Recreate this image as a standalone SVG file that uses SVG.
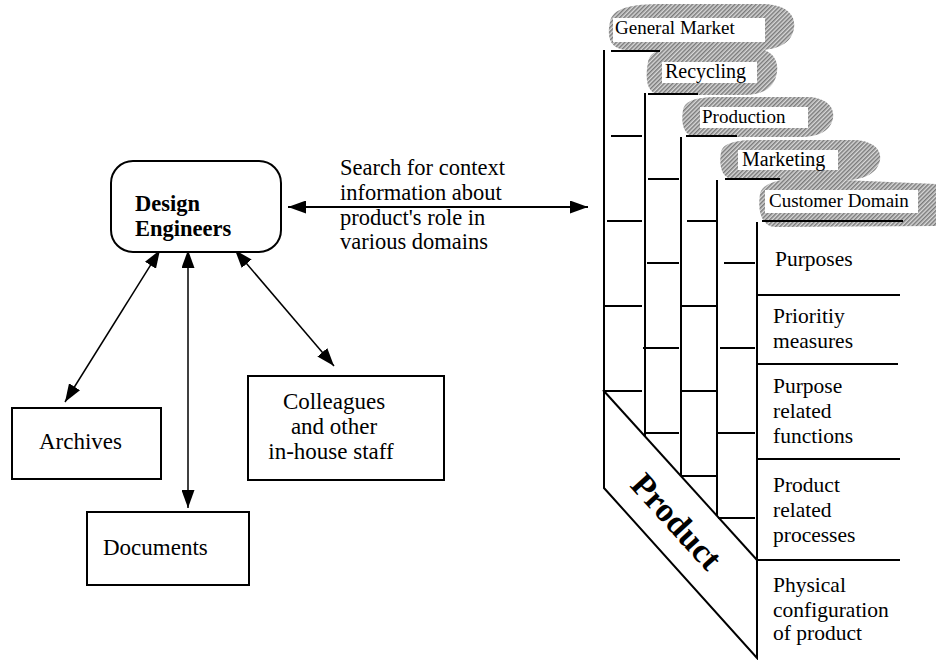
<svg xmlns="http://www.w3.org/2000/svg" width="936" height="660" viewBox="0 0 936 660">
<defs>
<style>
.tx{font-family:"Liberation Serif","Times New Roman",serif;font-size:22.5px;fill:#000}
.ta{font-family:"Liberation Serif","Times New Roman",serif;font-size:21.5px;fill:#000}
.tb{font-family:"Liberation Serif","Times New Roman",serif;font-size:23px;fill:#000}
.cl{font-family:"Liberation Serif","Times New Roman",serif;font-size:19px;fill:#000}
.cm{font-family:"Liberation Serif","Times New Roman",serif;font-size:20px;fill:#000}
.bd{font-weight:bold}
.box{fill:#fff;stroke:#000;stroke-width:2}
.ln{stroke:#000;stroke-width:2;fill:none}
.thin{stroke:#000;stroke-width:1.5;fill:none}
.cloud{fill:url(#hatch);stroke:none}
.lab{fill:#fff;stroke:none}
</style>
<pattern id="hatch" patternUnits="userSpaceOnUse" width="3" height="3" patternTransform="rotate(45)">
<rect width="3" height="3" fill="#d8d8d8"/>
<line x1="0.75" y1="0" x2="0.75" y2="3" stroke="#7a7a7a" stroke-width="1.5"/>
</pattern>
<marker id="ah" viewBox="0 0 18 13" refX="18" refY="6.5" markerWidth="18" markerHeight="13" markerUnits="userSpaceOnUse" orient="auto-start-reverse">
<path d="M0,0 L18,6.5 L0,13 z" fill="#000"/>
</marker>
</defs>
<rect width="936" height="660" fill="#fff"/>

<g id="connectors">
<line class="ln" x1="288" y1="207" x2="588" y2="207" marker-start="url(#ah)" marker-end="url(#ah)"/>
<line class="thin" x1="160" y1="250" x2="65" y2="402" marker-start="url(#ah)" marker-end="url(#ah)"/>
<line class="thin" x1="188" y1="250" x2="188" y2="508" marker-start="url(#ah)" marker-end="url(#ah)"/>
<line class="thin" x1="235" y1="250" x2="334" y2="366" marker-start="url(#ah)" marker-end="url(#ah)"/>
</g>

<g id="search-label">
<text class="tx" x="340" y="175">Search for context</text>
<text class="tx" x="340" y="200">information about</text>
<text class="tx" x="340" y="225">product's role in</text>
<text class="tx" x="340" y="249">various domains</text>
</g>

<g id="design-engineers">
<rect class="box" x="111" y="161" width="170" height="91" rx="22"/>
<text class="tx bd" x="135" y="211">Design</text>
<text class="tx bd" x="135" y="236">Engineers</text>
</g>

<g id="archives">
<rect class="box" x="12" y="408" width="149" height="71"/>
<text class="tb" x="39" y="449">Archives</text>
</g>

<g id="documents">
<rect class="box" x="87" y="512" width="162" height="73"/>
<text class="tb" x="103" y="555">Documents</text>
</g>

<g id="colleagues">
<rect class="box" x="248" y="376" width="196" height="104"/>
<text class="tb" x="334" y="409" text-anchor="middle">Colleagues</text>
<text class="tb" x="334" y="434" text-anchor="middle">and other</text>
<text class="tb" x="331" y="459" text-anchor="middle">in-house staff</text>
</g>

<g id="domain-clouds">
<path class="cloud" d="M610,22 C612,8 632,4 662,4 L762,4 C786,4 796,15 794,28 C792,42 780,50 758,50 L628,50 C612,50 606,40 610,22 Z"/>
<path class="cloud" d="M648,62 C650,51 662,47 684,47 L748,47 C770,47 779,58 777,72 C775,87 764,95 744,95 L662,95 C649,95 644,84 648,62 Z"/>
<path class="cloud" d="M683,110 C685,100 698,97 718,97 L806,97 C826,97 835,107 833,118 C831,130 820,137 800,137 L698,137 C686,137 680,128 683,110 Z"/>
<path class="cloud" d="M721,152 C723,143 736,140 756,140 L852,140 C872,140 882,149 880,160 C878,172 866,180 846,180 L736,180 C724,180 718,170 721,152 Z"/>
<path class="cloud" d="M760,194 C762,184 776,180 796,178 L936,184 L936,226 L776,227 C763,227 757,214 760,194 Z"/>
<rect class="lab" x="613" y="18" width="152" height="24"/>
<rect class="lab" x="662" y="62" width="95" height="21"/>
<rect class="lab" x="700" y="107" width="108" height="21"/>
<rect class="lab" x="738" y="150" width="100" height="20"/>
<rect class="lab" x="765" y="190" width="153" height="23"/>
<text class="cl" x="615" y="34">General Market</text>
<text class="cm" x="665" y="78">Recycling</text>
<text class="cl" x="702" y="123">Production</text>
<text class="cm" x="742" y="166">Marketing</text>
<text class="cl" x="769" y="207">Customer Domain</text>
</g>

<g id="product-structure">
<path class="ln" d="M604,50 V488 L757,658 V222"/>
<path class="ln" d="M603,390 L757,560"/>
<path class="ln" d="M645,93 V436 M681,137 V476 M717,180 V516"/>
<path class="ln" d="M611,51 H660 M611,136 H642 M607,221 H642 M605,306 H642 M604,391 H642"/>
<path class="ln" d="M648,94 H698 M648,179 H679 M647,263 H679 M643,348 H679 M645,433 H679"/>
<path class="ln" d="M686,136 H737 M687,221 H717 M682,306 H716 M682,391 H716 M682,476 H717"/>
<path class="ln" d="M725,179 H780 M724,263 H755 M720,348 H755 M718,433 H755 M718,518 H755"/>
<path class="ln" d="M762,221 H903 M757,295 H900 M757,364 H898 M757,459 H900 M757,560 H900"/>
<text class="tx bd" transform="translate(677,521) rotate(47.8)" x="0" y="12" text-anchor="middle" style="font-size:34px">Product</text>
</g>

<g id="aspects">
<text class="ta" x="775" y="266">Purposes</text>
<text class="ta" x="773" y="323">Prioritiy</text>
<text class="ta" x="773" y="348">measures</text>
<text class="ta" x="773" y="393">Purpose</text>
<text class="ta" x="773" y="418">related</text>
<text class="ta" x="773" y="443">functions</text>
<text class="ta" x="773" y="492">Product</text>
<text class="ta" x="773" y="517">related</text>
<text class="ta" x="773" y="542">processes</text>
<text class="ta" x="773" y="592">Physical</text>
<text class="ta" x="773" y="617">configuration</text>
<text class="ta" x="773" y="640">of product</text>
</g>
</svg>
